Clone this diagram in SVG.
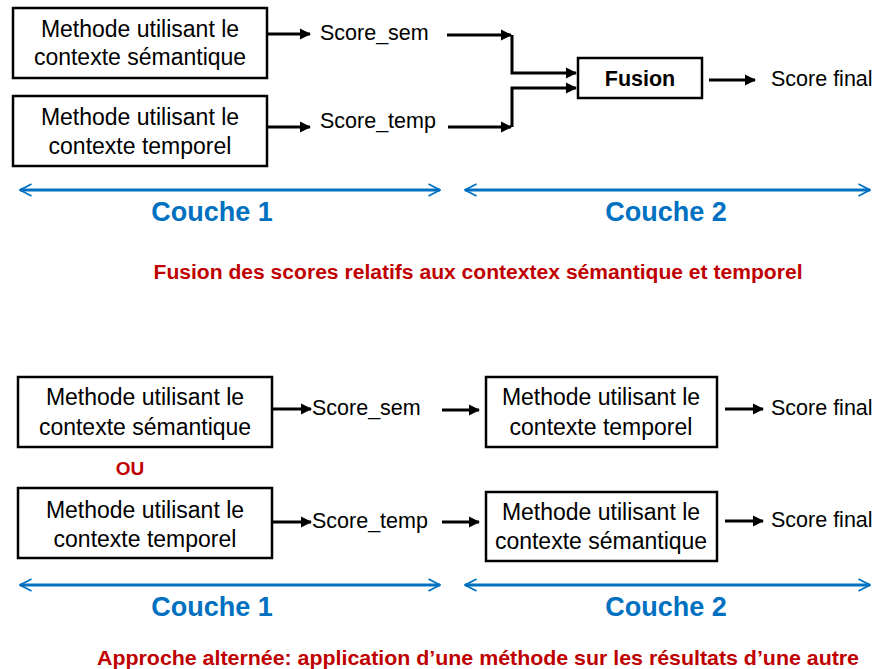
<svg xmlns="http://www.w3.org/2000/svg" width="876" height="669" viewBox="0 0 876 669">
<defs>
<marker id="ah" viewBox="0 0 10 10" refX="9" refY="5" markerWidth="3.8" markerHeight="3.8" orient="auto" markerUnits="strokeWidth">
<path d="M0,0 L10,5 L0,10 z" fill="#000"/>
</marker>
<marker id="bh" viewBox="0 0 12 12" refX="11" refY="6" markerWidth="5.2" markerHeight="5.2" orient="auto-start-reverse" markerUnits="strokeWidth">
<path d="M1.5,1 L11,6 L1.5,11" fill="none" stroke="#0070C0" stroke-width="1.4"/>
</marker>
</defs>
<style>
.box{fill:#fff;stroke:#000;stroke-width:2.5}
.t{font-family:"Liberation Sans",Arial,sans-serif;font-size:21.5px;fill:#000}
.bt{font-family:"Liberation Sans",Arial,sans-serif;font-size:23px;fill:#000;text-anchor:middle}
.c{text-anchor:middle}
.b{font-weight:bold}
.ln{fill:none;stroke:#000;stroke-width:3}
.bl{fill:none;stroke:#0070C0;stroke-width:2.8}
.couche{font-family:"Liberation Sans",Arial,sans-serif;font-size:27px;font-weight:bold;fill:#0070C0;text-anchor:middle}
.red{font-family:"Liberation Sans",Arial,sans-serif;font-weight:bold;fill:#C00000}
</style>
<rect width="876" height="669" fill="#fff"/>

<!-- Top section -->
<g id="n_sem1"><rect class="box" x="13" y="8" width="254" height="70"/>
<text class="bt" x="140" y="37">Methode utilisant le</text>
<text class="bt" x="140" y="65">contexte sémantique</text></g>
<g id="n_temp1"><rect class="box" x="13" y="96" width="254" height="70"/>
<text class="bt" x="140" y="125">Methode utilisant le</text>
<text class="bt" x="140" y="154">contexte temporel</text></g>
<g id="l_scoresem1"><text class="t" x="320" y="40">Score_sem</text></g>
<g id="l_scoretemp1"><text class="t" x="320" y="128">Score_temp</text></g>
<g id="n_fusion"><rect class="box" x="578" y="58" width="124" height="40"/>
<text class="t c b" x="640" y="86">Fusion</text></g>
<g id="l_final1"><text class="t" x="771" y="86">Score final</text></g>

<!-- Bottom section -->
<g id="n_semA"><rect class="box" x="18" y="377" width="254" height="70"/>
<text class="bt" x="145" y="405">Methode utilisant le</text>
<text class="bt" x="145" y="435">contexte sémantique</text></g>
<g id="n_tempB"><rect class="box" x="18" y="488" width="254" height="70"/>
<text class="bt" x="145" y="518">Methode utilisant le</text>
<text class="bt" x="145" y="547">contexte temporel</text></g>
<g id="l_ou"><text class="red c" x="130" y="475" font-size="19">OU</text></g>
<g id="l_scoresem2"><text class="t" x="312" y="415">Score_sem</text></g>
<g id="l_scoretemp2"><text class="t" x="312" y="528">Score_temp</text></g>
<g id="n_tempC"><rect class="box" x="486" y="377" width="231" height="70"/>
<text class="bt" x="601" y="405">Methode utilisant le</text>
<text class="bt" x="601" y="435">contexte temporel</text></g>
<g id="n_semD"><rect class="box" x="486" y="492" width="231" height="69"/>
<text class="bt" x="601" y="520">Methode utilisant le</text>
<text class="bt" x="601" y="549">contexte sémantique</text></g>
<g id="l_final2"><text class="t" x="771" y="415">Score final</text></g>
<g id="l_final3"><text class="t" x="771" y="527">Score final</text></g>

<!-- Connectors -->
<g id="connectors">
<line class="ln" x1="268" y1="34" x2="310" y2="34" marker-end="url(#ah)"/>
<line class="ln" x1="268" y1="127" x2="310" y2="127" marker-end="url(#ah)"/>
<line class="ln" x1="447" y1="35" x2="511" y2="35" marker-end="url(#ah)"/>
<polyline class="ln" points="512,35 512,73 576,73" marker-end="url(#ah)"/>
<line class="ln" x1="448" y1="127" x2="511" y2="127" marker-end="url(#ah)"/>
<polyline class="ln" points="512,127 512,88 576,88" marker-end="url(#ah)"/>
<line class="ln" x1="709" y1="80" x2="755" y2="80" marker-end="url(#ah)"/>

<line class="ln" x1="273" y1="409" x2="311" y2="409" marker-end="url(#ah)"/>
<line class="ln" x1="273" y1="522" x2="311" y2="522" marker-end="url(#ah)"/>
<line class="ln" x1="442" y1="410" x2="479" y2="410" marker-end="url(#ah)"/>
<line class="ln" x1="442" y1="522" x2="479" y2="522" marker-end="url(#ah)"/>
<line class="ln" x1="725" y1="409" x2="763" y2="409" marker-end="url(#ah)"/>
<line class="ln" x1="725" y1="521" x2="763" y2="521" marker-end="url(#ah)"/>

<line class="bl" x1="20" y1="190" x2="440" y2="190" marker-start="url(#bh)" marker-end="url(#bh)"/>
<line class="bl" x1="465" y1="190" x2="870" y2="190" marker-start="url(#bh)" marker-end="url(#bh)"/>
<line class="bl" x1="20" y1="585" x2="440" y2="585" marker-start="url(#bh)" marker-end="url(#bh)"/>
<line class="bl" x1="465" y1="585" x2="870" y2="585" marker-start="url(#bh)" marker-end="url(#bh)"/>
</g>

<g id="labels">
<text class="couche" x="212" y="221">Couche 1</text>
<text class="couche" x="666" y="221">Couche 2</text>
<text class="red c" x="478" y="279" font-size="20" textLength="649" lengthAdjust="spacingAndGlyphs">Fusion des scores relatifs aux contextex sémantique et temporel</text>
<text class="couche" x="212" y="616">Couche 1</text>
<text class="couche" x="666" y="616">Couche 2</text>
<text class="red c" x="478" y="665" font-size="21" textLength="762" lengthAdjust="spacingAndGlyphs">Approche alternée: application d’une méthode sur les résultats d’une autre</text>
</g>
</svg>
